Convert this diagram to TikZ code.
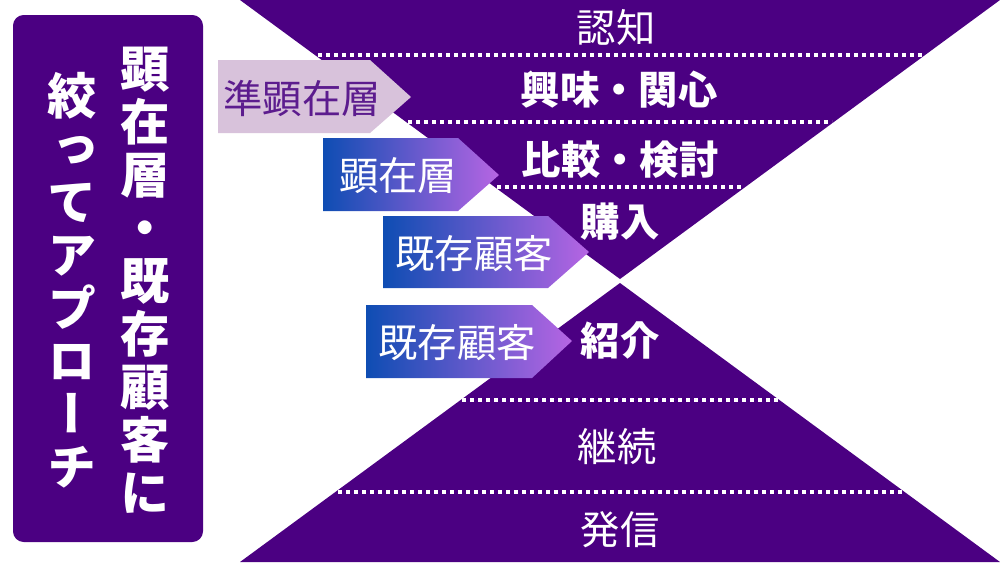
\documentclass[tikz,border=0pt]{standalone}
\usepackage{fontspec}
\newfontfamily\jp{Noto Sans CJK JP}
\newfontfamily\jpvert[RawFeature=+vert]{Noto Sans CJK JP}
\usetikzlibrary{positioning}
\definecolor{funnel}{HTML}{4B0082}
\definecolor{lavender}{HTML}{D8C2DB}
\definecolor{tagink}{HTML}{5C1C8E}
\definecolor{tagblue}{HTML}{0E4DB3}
\definecolor{tagpurple}{HTML}{B665E3}

\begin{document}
\begin{tikzpicture}[
    x=0.75pt, y=-0.75pt,
    stagetext/.style={text=white, inner sep=0pt, font=\jp\fontsize{29.5pt}{34pt}\selectfont},
    stagebold/.style={stagetext, font=\jp\bfseries\fontsize{29.5pt}{34pt}\selectfont},
    tagtext/.style={text=white, inner sep=0pt, font=\jp\fontsize{29.5pt}{34pt}\selectfont},
    tagshade/.style={left color=tagblue, right color=tagpurple},
    vtext/.style={text=white, inner sep=0pt, align=center, font=\jpvert\bfseries\fontsize{37pt}{39.8pt}\selectfont},
    dots/.style={white, line width=3pt, dash pattern=on 3pt off 3pt}
]
    \useasboundingbox (0,0) rectangle (1000,562);

    % Left panel
    \fill[funnel, rounded corners=8pt] (13,15) rectangle (203,542);
    \node[vtext] (focus) at (145,280) {顕\\在\\層\\・\\既\\存\\顧\\客\\に};
    \node[vtext] (approach) at (72,280) {絞\\っ\\て\\ア\\プ\\ロ\\ー\\チ};

    % Funnels
    \fill[funnel] (240,0) -- (1000,0) -- (620,279) -- cycle;
    \fill[funnel] (620,283) -- (1000,562) -- (240,562) -- cycle;

    % Dotted separators
    \draw[dots] (318,55) -- (924,55);
    \draw[dots] (408,122) -- (832,122);
    \draw[dots] (497,187) -- (742,187);
    \draw[dots] (462,400) -- (778,400);
    \draw[dots] (338,492) -- (902,492);

    % Stages
    \node[stagetext] (aware) at (616,27) {認知};
    \node[stagebold] (interest) at (619,90) {興味・関心};
    \node[stagebold] (compare) at (620,160) {比較・検討};
    \node[stagebold] (buy) at (620,222) {購入};
    \node[stagebold] (refer) at (620,340) {紹介};
    \node[stagetext] (keep) at (617,447) {継続};
    \node[stagetext] (share) at (620,530) {発信};

    % Tags
    \fill[lavender] (218,60) -- (370,60) -- (411,97) -- (370,133) -- (218,133) -- cycle;
    \node[tagtext, text=tagink] (quasi) at (302,98) {準顕在層};
    \shade[tagshade] (323,138) -- (458,138) -- (499,175) -- (458,211) -- (323,211) -- cycle;
    \node[tagtext] (overt) at (398,176) {顕在層};
    \shade[tagshade] (383,216) -- (548,216) -- (589,252) -- (548,288) -- (383,288) -- cycle;
    \node[tagtext] (client) at (474,254) {既存顧客};
    \shade[tagshade] (366,305) -- (532,305) -- (572,341) -- (532,378) -- (366,378) -- cycle;
    \node[tagtext] (client2) at (457,343) {既存顧客};
\end{tikzpicture}
\end{document}
